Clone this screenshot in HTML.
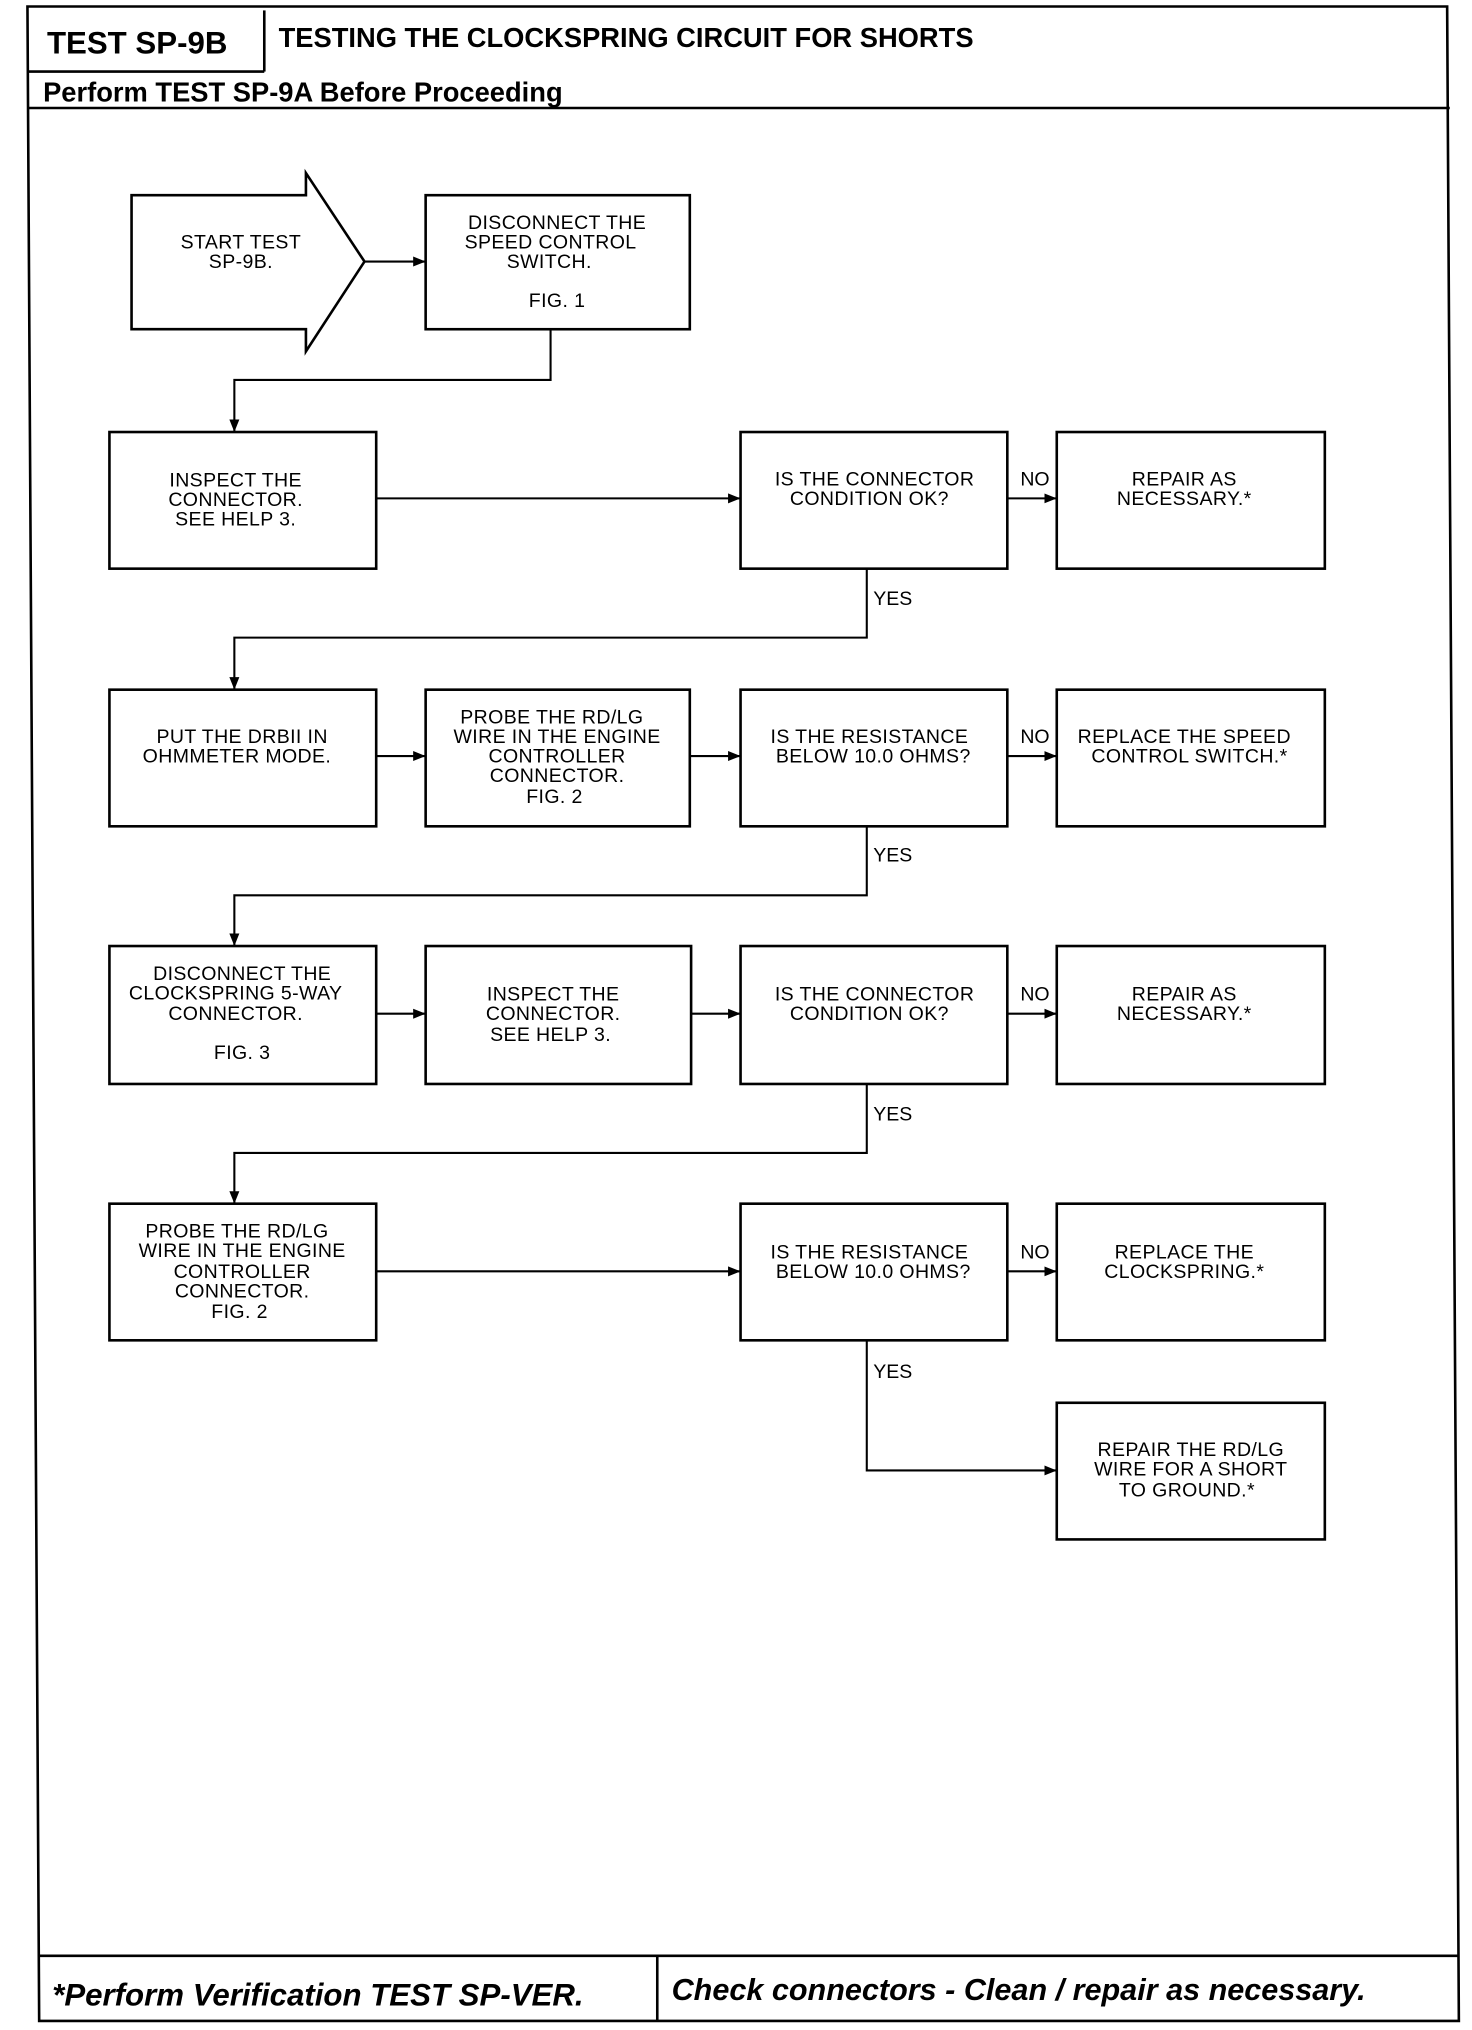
<!DOCTYPE html>
<html><head><meta charset="utf-8"><style>
html,body{margin:0;padding:0;background:#fff;}
svg{display:block}
.t{font-family:"Liberation Sans",sans-serif;font-size:15px;fill:#000;text-anchor:middle;letter-spacing:0.3px}
.l{font-family:"Liberation Sans",sans-serif;font-size:15px;fill:#000;}
</style></head><body>
<svg width="1472" height="2030" viewBox="0 0 1131 1560" xmlns="http://www.w3.org/2000/svg">
<defs><marker id="a" viewBox="0 0 10 10" refX="10" refY="5" markerWidth="6" markerHeight="6" orient="auto"><path d="M0,1 L10,5 L0,9 z" fill="#000"/></marker></defs>
<g fill="none" stroke="#000" stroke-width="2">
<path d="M21,5 L1112,5 L1121,1553 L30,1553 Z"/>
<line x1="21" y1="55" x2="203" y2="55"/>
<line x1="203" y1="8" x2="203" y2="55"/>
<line x1="22" y1="83" x2="1114" y2="83"/>
<line x1="29" y1="1503" x2="1120" y2="1503"/>
<line x1="505" y1="1503" x2="505" y2="1553"/>
<path d="M101,150 L235,150 L235,133 L280,201 L235,270 L235,253 L101,253 Z"/>
<rect x="327" y="150" width="203" height="103"/>
<rect x="84" y="332" width="205" height="105"/>
<rect x="569" y="332" width="205" height="105"/>
<rect x="812" y="332" width="206" height="105"/>
<rect x="84" y="530" width="205" height="105"/>
<rect x="327" y="530" width="203" height="105"/>
<rect x="569" y="530" width="205" height="105"/>
<rect x="812" y="530" width="206" height="105"/>
<rect x="84" y="727" width="205" height="106"/>
<rect x="327" y="727" width="204" height="106"/>
<rect x="569" y="727" width="205" height="106"/>
<rect x="812" y="727" width="206" height="106"/>
<rect x="84" y="925" width="205" height="105"/>
<rect x="569" y="925" width="205" height="105"/>
<rect x="812" y="925" width="206" height="105"/>
<rect x="812" y="1078" width="206" height="105"/>
</g>
<g fill="none" stroke="#000" stroke-width="1.6" marker-end="url(#a)">
<line x1="280" y1="201" x2="327" y2="201"/>
<path d="M423,253 L423,292 L180,292 L180,332"/>
<line x1="289" y1="383" x2="569" y2="383"/>
<line x1="774" y1="383" x2="812" y2="383"/>
<path d="M666,437 L666,490 L180,490 L180,530"/>
<line x1="289" y1="581" x2="327" y2="581"/>
<line x1="530" y1="581" x2="569" y2="581"/>
<line x1="774" y1="581" x2="812" y2="581"/>
<path d="M666,635 L666,688 L180,688 L180,727"/>
<line x1="289" y1="779" x2="327" y2="779"/>
<line x1="531" y1="779" x2="569" y2="779"/>
<line x1="774" y1="779" x2="812" y2="779"/>
<path d="M666,833 L666,886 L180,886 L180,925"/>
<line x1="289" y1="977" x2="569" y2="977"/>
<line x1="774" y1="977" x2="812" y2="977"/>
<path d="M666,1030 L666,1130 L812,1130"/>
</g>
<text x="36" y="41" style="font-family:'Liberation Sans',sans-serif;font-weight:bold;font-size:24px">TEST SP-9B</text>
<text x="214" y="36" style="font-family:'Liberation Sans',sans-serif;font-weight:bold;font-size:21px">TESTING THE CLOCKSPRING CIRCUIT FOR SHORTS</text>
<text x="33" y="78" style="font-family:'Liberation Sans',sans-serif;font-weight:bold;font-size:21px">Perform TEST SP-9A Before Proceeding</text>
<text x="40" y="1541" style="font-family:'Liberation Sans',sans-serif;font-weight:bold;font-style:italic;font-size:24px">*Perform Verification TEST SP-VER.</text>
<text x="516" y="1537" style="font-family:'Liberation Sans',sans-serif;font-weight:bold;font-style:italic;font-size:23.5px">Check connectors - Clean / repair as necessary.</text>
<text class="t" x="185" y="191">START TEST</text><text class="t" x="185" y="206">SP-9B.</text>
<text class="t" x="428" y="176">DISCONNECT THE</text><text class="t" x="423" y="191">SPEED CONTROL</text><text class="t" x="422" y="206">SWITCH.</text><text class="t" x="428" y="236">FIG. 1</text>
<text class="t" x="181" y="374">INSPECT THE</text><text class="t" x="181" y="389">CONNECTOR.</text><text class="t" x="181" y="404">SEE HELP 3.</text>
<text class="t" x="672" y="373">IS THE CONNECTOR</text><text class="t" x="668" y="388">CONDITION OK?</text>
<text class="t" x="910" y="373">REPAIR AS</text><text class="t" x="910" y="388">NECESSARY.*</text>
<text class="t" x="186" y="571">PUT THE DRBII IN</text><text class="t" x="182" y="586">OHMMETER MODE.</text>
<text class="t" x="424" y="556">PROBE THE RD/LG</text><text class="t" x="428" y="571">WIRE IN THE ENGINE</text><text class="t" x="428" y="586">CONTROLLER</text><text class="t" x="428" y="601">CONNECTOR.</text><text class="t" x="426" y="617">FIG. 2</text>
<text class="t" x="668" y="571">IS THE RESISTANCE</text><text class="t" x="671" y="586">BELOW 10.0 OHMS?</text>
<text class="t" x="910" y="571">REPLACE THE SPEED</text><text class="t" x="914" y="586">CONTROL SWITCH.*</text>
<text class="t" x="186" y="753">DISCONNECT THE</text><text class="t" x="181" y="768">CLOCKSPRING 5-WAY</text><text class="t" x="181" y="784">CONNECTOR.</text><text class="t" x="186" y="814">FIG. 3</text>
<text class="t" x="425" y="769">INSPECT THE</text><text class="t" x="425" y="784">CONNECTOR.</text><text class="t" x="423" y="800">SEE HELP 3.</text>
<text class="t" x="672" y="769">IS THE CONNECTOR</text><text class="t" x="668" y="784">CONDITION OK?</text>
<text class="t" x="910" y="769">REPAIR AS</text><text class="t" x="910" y="784">NECESSARY.*</text>
<text class="t" x="182" y="951">PROBE THE RD/LG</text><text class="t" x="186" y="966">WIRE IN THE ENGINE</text><text class="t" x="186" y="982">CONTROLLER</text><text class="t" x="186" y="997">CONNECTOR.</text><text class="t" x="184" y="1013">FIG. 2</text>
<text class="t" x="668" y="967">IS THE RESISTANCE</text><text class="t" x="671" y="982">BELOW 10.0 OHMS?</text>
<text class="t" x="910" y="967">REPLACE THE</text><text class="t" x="910" y="982">CLOCKSPRING.*</text>
<text class="t" x="915" y="1119">REPAIR THE RD/LG</text><text class="t" x="915" y="1134">WIRE FOR A SHORT</text><text class="t" x="912" y="1150">TO GROUND.*</text>
<text class="l" x="784" y="373">NO</text><text class="l" x="784" y="571">NO</text><text class="l" x="784" y="769">NO</text><text class="l" x="784" y="967">NO</text>
<text class="l" x="671" y="465">YES</text><text class="l" x="671" y="662">YES</text><text class="l" x="671" y="861">YES</text><text class="l" x="671" y="1059">YES</text>
</svg>
</body></html>
